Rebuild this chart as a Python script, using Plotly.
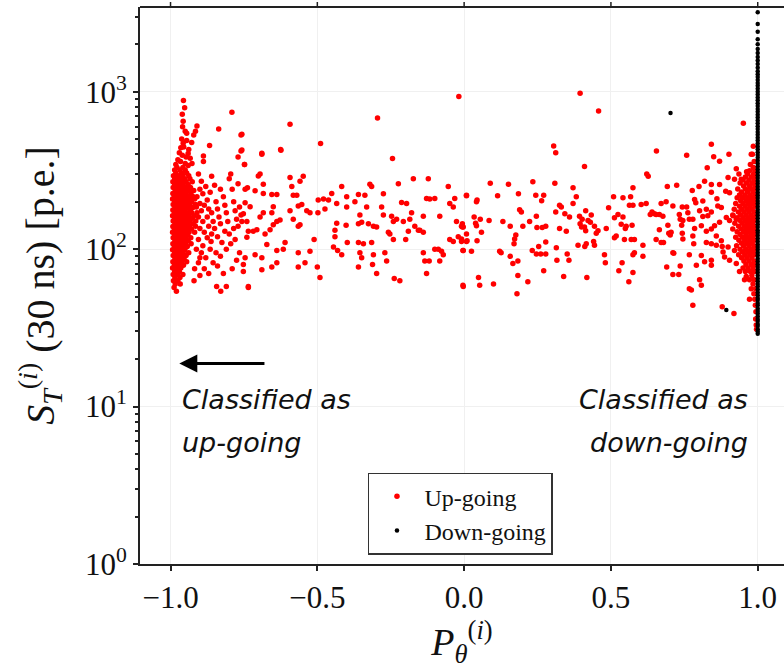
import plotly.graph_objects as go

# ---------------- data ----------------
up_left_tail = [
    (-0.956, 880), (-0.952, 790), (-0.960, 720), (-0.957, 650), (-0.959, 600), (-0.950, 560), (-0.945, 545),
    (-0.910, 605), (-0.915, 560), (-0.921, 530), (-0.962, 500), (-0.945, 490), (-0.928, 475), (-0.965, 440),
    (-0.955, 445), (-0.938, 430), (-0.960, 395), (-0.947, 385), (-0.933, 378), (-0.966, 360), (-0.950, 350),
    (-0.927, 350), (-0.791, 740), (-0.836, 580), (-0.760, 530), (-0.867, 455), (-0.888, 390), (-0.888, 360),
    (-0.760, 420), (-0.770, 385), (-0.748, 345), (-0.689, 400), (-0.624, 425), (-0.975, 370), (-0.970, 410),
    (-0.957, 470), (-0.940, 405), (-0.982, 345), (-0.940, 340),
]
up_left_core = [
    (330, [-0.978, -0.958]),
    (318, [-0.986, -0.968, -0.950]),
    (305, [-0.982, -0.963, -0.945]),
    (292, [-0.990, -0.974, -0.958, -0.938]),
    (280, [-0.986, -0.969, -0.952, -0.934]),
    (268, [-0.992, -0.978, -0.963, -0.947, -0.926]),
    (257, [-0.986, -0.972, -0.957, -0.940]),
    (246, [-0.991, -0.977, -0.962, -0.947, -0.932]),
    (236, [-0.984, -0.969, -0.954, -0.938, -0.921]),
    (226, [-0.992, -0.978, -0.963, -0.948, -0.931]),
    (217, [-0.987, -0.973, -0.958, -0.942, -0.925]),
    (208, [-0.993, -0.980, -0.966, -0.951, -0.936, -0.918]),
    (200, [-0.986, -0.971, -0.957, -0.943, -0.929]),
    (192, [-0.991, -0.978, -0.963, -0.948, -0.934, -0.915]),
    (184, [-0.985, -0.970, -0.955, -0.940, -0.924]),
    (177, [-0.992, -0.979, -0.964, -0.950, -0.932]),
    (170, [-0.987, -0.973, -0.959, -0.944, -0.928, -0.910]),
    (163, [-0.993, -0.980, -0.966, -0.952, -0.937, -0.920]),
    (157, [-0.986, -0.972, -0.958, -0.943, -0.926]),
    (151, [-0.991, -0.977, -0.963, -0.949, -0.934, -0.914]),
    (145, [-0.985, -0.970, -0.955, -0.940, -0.923]),
    (139, [-0.992, -0.978, -0.964, -0.950, -0.935]),
    (134, [-0.987, -0.973, -0.958, -0.944, -0.929]),
    (128, [-0.993, -0.980, -0.966, -0.952, -0.937, -0.918]),
    (123, [-0.986, -0.971, -0.957, -0.942]),
    (118, [-0.991, -0.977, -0.962, -0.948, -0.931]),
    (113, [-0.985, -0.970, -0.955, -0.940]),
    (108, [-0.992, -0.978, -0.964, -0.949, -0.930]),
    (104, [-0.987, -0.973, -0.958, -0.943]),
    (99, [-0.993, -0.980, -0.966, -0.951]),
    (95, [-0.986, -0.971, -0.957, -0.938]),
    (91, [-0.991, -0.977, -0.962, -0.947]),
    (87, [-0.985, -0.969, -0.954]),
    (83, [-0.992, -0.978, -0.963, -0.945]),
    (79, [-0.987, -0.972, -0.956]),
    (76, [-0.993, -0.980, -0.965]),
    (72, [-0.986, -0.970]),
    (69, [-0.991, -0.976, -0.958]),
    (66, [-0.985, -0.968]),
    (63, [-0.990, -0.975]),
    (60, [-0.984, -0.967]),
    (57, [-0.988]),
    (54, [-0.980]),
]
up_left_spread = [
    (-0.905, 300), (-0.895, 270), (-0.900, 240), (-0.910, 215), (-0.890, 225), (-0.880, 250), (-0.875, 205),
    (-0.885, 190), (-0.895, 175), (-0.870, 180), (-0.905, 160), (-0.890, 150), (-0.875, 160), (-0.860, 170),
    (-0.900, 135), (-0.885, 128), (-0.870, 140), (-0.855, 150), (-0.905, 115), (-0.890, 105), (-0.875, 118),
    (-0.860, 125), (-0.895, 95), (-0.880, 88), (-0.865, 100), (-0.905, 82), (-0.885, 75), (-0.870, 70),
    (-0.900, 68), (-0.920, 63), (-0.845, 200), (-0.840, 180), (-0.835, 160), (-0.850, 135), (-0.840, 120),
    (-0.830, 145), (-0.825, 110), (-0.845, 95), (-0.830, 90), (-0.840, 78), (-0.820, 215), (-0.815, 190),
    (-0.810, 170), (-0.805, 150), (-0.815, 130), (-0.800, 125), (-0.810, 100), (-0.795, 108), (-0.820, 70),
    (-0.843, 58), (-0.829, 54), (-0.810, 58), (-0.790, 240), (-0.785, 200), (-0.780, 175), (-0.775, 155),
    (-0.785, 135), (-0.770, 140), (-0.780, 115), (-0.765, 95), (-0.775, 85), (-0.790, 75), (-0.770, 260),
    (-0.765, 185), (-0.760, 165), (-0.735, 57), (-0.860, 290), (-0.865, 230), (-0.850, 255), (-0.830, 240),
    (-0.800, 280), (-0.795, 300), (-0.862, 112), (-0.855, 82), (-0.900, 195), (-0.912, 185), (-0.915, 140),
    (-0.912, 100), (-0.900, 88), (-0.918, 75),
]
up_mid_left = [
    (-0.757, 536), (-0.757, 426), (-0.748, 345), (-0.593, 621), (-0.625, 430), (-0.689, 406), (-0.489, 468),
    (-0.295, 680), (-0.244, 376), (-0.018, 931), (-0.746, 240), (-0.738, 245), (-0.701, 291), (-0.695, 300),
    (-0.684, 258), (-0.712, 235), (-0.746, 197), (-0.729, 186), (-0.752, 168), (-0.757, 150), (-0.740, 150),
    (-0.735, 130), (-0.740, 119), (-0.746, 88), (-0.752, 80), (-0.752, 72), (-0.735, 58), (-0.712, 92),
    (-0.689, 88), (-0.689, 74), (-0.655, 77), (-0.638, 82), (-0.638, 98), (-0.672, 107), (-0.678, 125),
    (-0.661, 133), (-0.650, 143), (-0.638, 150), (-0.627, 153), (-0.655, 170), (-0.650, 186), (-0.655, 222),
    (-0.638, 222), (-0.684, 226), (-0.684, 170), (-0.695, 160), (-0.706, 133), (-0.718, 130), (-0.593, 285),
    (-0.587, 250), (-0.582, 220), (-0.570, 220), (-0.559, 270), (-0.548, 290), (-0.593, 175), (-0.582, 155),
    (-0.565, 140), (-0.559, 143), (-0.565, 188), (-0.553, 192), (-0.536, 175), (-0.525, 170), (-0.610, 110),
    (-0.616, 100), (-0.565, 95), (-0.565, 77), (-0.542, 82), (-0.525, 97), (-0.511, 115), (-0.500, 77),
    (-0.491, 66), (-0.498, 170), (-0.497, 205), (-0.479, 208), (-0.462, 205), (-0.474, 180), (-0.451, 226),
    (-0.434, 195), (-0.417, 250), (-0.400, 215), (-0.400, 185), (-0.434, 146), (-0.440, 132), (-0.440, 120),
    (-0.445, 103), (-0.431, 98), (-0.417, 92), (-0.398, 110), (-0.402, 142), (-0.372, 200), (-0.360, 222),
    (-0.338, 220), (-0.332, 185), (-0.355, 165), (-0.360, 145), (-0.349, 148), (-0.326, 145), (-0.309, 140),
    (-0.298, 138), (-0.321, 258), (-0.315, 250), (-0.275, 225), (-0.281, 185), (-0.275, 165), (-0.247, 162),
    (-0.241, 150), (-0.230, 155), (-0.224, 260), (-0.207, 150), (-0.213, 198), (-0.196, 195), (-0.173, 280),
    (-0.179, 170), (-0.185, 155), (-0.168, 140), (-0.139, 162), (-0.151, 132), (-0.139, 128), (-0.122, 280),
    (-0.128, 210), (-0.117, 208), (-0.100, 210), (-0.083, 162), (-0.054, 250), (-0.049, 195), (-0.037, 185),
    (-0.032, 210), (-0.026, 150), (-0.009, 140), (-0.003, 138), (0.008, 220), (-0.360, 110), (-0.355, 95),
    (-0.349, 88), (-0.343, 108), (-0.315, 110), (-0.309, 92), (-0.312, 80), (-0.360, 77), (-0.298, 70),
    (-0.270, 95), (-0.264, 84), (-0.258, 128), (-0.253, 125), (-0.241, 115), (-0.238, 65), (-0.219, 63),
    (-0.199, 115), (-0.190, 130), (-0.156, 132), (-0.139, 95), (-0.134, 84), (-0.128, 70), (-0.119, 84),
    (-0.100, 100), (-0.088, 100), (-0.077, 97), (-0.071, 92), (-0.083, 84), (-0.037, 112), (-0.020, 120),
    (-0.003, 98), (-0.003, 58), (0.008, 112), (-0.049, 115),
]
up_mid_right = [
    (0.395, 977), (0.458, 754), (0.305, 452), (0.312, 410), (0.410, 335), (0.655, 420), (0.758, 395),
    (0.622, 300), (0.627, 290), (0.089, 262), (0.151, 258), (0.234, 268), (0.309, 262), (0.371, 245),
    (0.008, 218), (0.044, 205), (0.042, 200), (0.114, 218), (0.185, 225), (0.244, 220), (0.271, 220),
    (0.264, 203), (0.382, 215), (0.371, 195), (0.325, 190), (0.331, 185), (0.509, 215), (0.541, 212),
    (0.567, 215), (0.575, 245), (0.563, 190), (0.575, 190), (0.603, 192), (0.620, 195), (0.671, 195),
    (0.688, 200), (0.724, 255), (0.692, 250), (0.711, 188), (0.743, 185), (0.758, 185), (0.492, 183),
    (0.189, 178), (0.195, 172), (0.246, 162), (0.223, 150), (0.200, 140), (0.248, 137), (0.266, 137),
    (0.278, 140), (0.312, 172), (0.343, 168), (0.359, 160), (0.393, 162), (0.402, 155), (0.414, 175),
    (0.422, 152), (0.433, 165), (0.430, 148), (0.444, 140), (0.450, 126), (0.456, 131), (0.410, 138),
    (0.414, 131), (0.395, 145), (0.400, 138), (0.325, 135), (0.348, 130), (0.388, 106), (0.411, 104),
    (0.416, 108), (0.441, 112), (0.444, 106), (0.484, 135), (0.478, 92), (0.481, 82), (0.512, 158),
    (0.524, 166), (0.541, 160), (0.535, 144), (0.552, 140), (0.549, 135), (0.518, 121), (0.512, 118),
    (0.546, 115), (0.569, 115), (0.580, 115), (0.572, 142), (0.609, 106), (0.609, 90), (0.575, 92),
    (0.580, 95), (0.527, 73), (0.538, 82), (0.575, 71), (0.561, 62), (0.634, 166), (0.640, 172),
    (0.648, 168), (0.654, 166), (0.665, 166), (0.677, 162), (0.665, 133), (0.654, 115), (0.671, 110),
    (0.679, 110), (0.694, 142), (0.697, 126), (0.702, 123), (0.705, 128), (0.733, 166), (0.736, 155),
    (0.745, 152), (0.741, 142), (0.743, 126), (0.745, 116), (0.762, 170), (0.767, 155), (0.711, 95),
    (0.714, 94), (0.690, 77), (0.711, 69), (0.731, 69), (0.736, 78), (0.767, 92), (0.767, 56),
    (-0.006, 145), (-0.006, 138), (-0.009, 116), (-0.009, 112), (0.008, 125), (0.010, 113), (0.034, 160),
    (0.039, 146), (0.042, 141), (0.055, 155), (0.059, 128), (0.044, 113), (0.085, 152), (0.132, 150),
    (0.157, 140), (-0.004, 98), (0.025, 97), (0.121, 97), (0.126, 95), (0.176, 123), (0.172, 116),
    (0.170, 108), (0.157, 90), (0.166, 81), (0.183, 84), (0.183, 68), (0.180, 52), (0.217, 62),
    (0.232, 98), (0.254, 104), (0.246, 93), (0.261, 93), (0.278, 93), (0.278, 111), (0.314, 102),
    (0.316, 85), (0.351, 93), (0.357, 85), (0.339, 67), (0.271, 73), (0.418, 66), (0.049, 66),
    (0.053, 59), (0.100, 60), (-0.004, 59),
]
up_right_spread = [
    (0.842, 463), (0.850, 386), (0.870, 362), (0.902, 400), (0.828, 329), (0.927, 324), (0.978, 400),
    (0.951, 630), (0.982, 400), (0.899, 285), (0.921, 278), (0.944, 278), (0.819, 270), (0.842, 257),
    (0.870, 257), (0.777, 236), (0.800, 250), (0.842, 230), (0.891, 233), (0.904, 228), (0.861, 209),
    (0.813, 202), (0.785, 207), (0.789, 197), (0.864, 188), (0.876, 184), (0.825, 179), (0.802, 175),
    (0.842, 172), (0.779, 155), (0.813, 161), (0.830, 163), (0.785, 135), (0.808, 141), (0.825, 130),
    (0.842, 134), (0.853, 141), (0.870, 148), (0.893, 159), (0.904, 152), (0.916, 163), (0.927, 155),
    (0.859, 121), (0.876, 113), (0.825, 110), (0.842, 108), (0.859, 106), (0.879, 104), (0.779, 121),
    (0.782, 108), (0.808, 91), (0.819, 83), (0.842, 85), (0.842, 79), (0.882, 96), (0.887, 89),
    (0.899, 103), (0.921, 98), (0.904, 85), (0.927, 81), (0.938, 72), (0.791, 79), (0.802, 64),
    (0.808, 59), (0.774, 55), (0.779, 44), (0.879, 43), (0.919, 39), (0.972, 48), (0.955, 64),
    (0.961, 67), (0.950, 76), (0.988, 360), (0.975, 345), (0.962, 310), (0.936, 300), (0.985, 450),
]
up_right_core = [
    (330, [0.985]),
    (315, [0.972, 0.990]),
    (300, [0.966, 0.986]),
    (287, [0.958, 0.978, 0.993]),
    (275, [0.950, 0.970, 0.988]),
    (263, [0.940, 0.962, 0.980, 0.994]),
    (252, [0.952, 0.972, 0.990]),
    (241, [0.932, 0.958, 0.976, 0.992]),
    (231, [0.945, 0.965, 0.984]),
    (221, [0.938, 0.956, 0.974, 0.991]),
    (212, [0.930, 0.948, 0.966, 0.983, 0.995]),
    (203, [0.942, 0.960, 0.976, 0.990]),
    (195, [0.925, 0.950, 0.968, 0.985]),
    (187, [0.938, 0.957, 0.974, 0.992]),
    (179, [0.920, 0.946, 0.964, 0.981]),
    (172, [0.934, 0.953, 0.970, 0.988]),
    (165, [0.915, 0.942, 0.960, 0.977, 0.994]),
    (158, [0.930, 0.950, 0.967, 0.984]),
    (152, [0.940, 0.958, 0.975, 0.991]),
    (146, [0.922, 0.947, 0.965, 0.982]),
    (140, [0.935, 0.955, 0.972, 0.989]),
    (134, [0.915, 0.944, 0.962, 0.979, 0.995]),
    (129, [0.930, 0.952, 0.969, 0.986]),
    (124, [0.940, 0.960, 0.977, 0.992]),
    (119, [0.925, 0.948, 0.966, 0.983]),
    (114, [0.936, 0.956, 0.973, 0.990]),
    (109, [0.945, 0.963, 0.980]),
    (105, [0.928, 0.952, 0.970, 0.987]),
    (100, [0.940, 0.959, 0.976, 0.993]),
    (96, [0.948, 0.966, 0.983]),
    (92, [0.935, 0.956, 0.973, 0.990]),
    (88, [0.945, 0.963, 0.980]),
    (84, [0.953, 0.970, 0.987]),
    (80, [0.960, 0.978, 0.993]),
    (76, [0.967, 0.984]),
    (72, [0.958, 0.975, 0.990]),
    (68, [0.980]),
    (64, [0.972, 0.988]),
    (60, [0.984]),
    (56, [0.978, 0.993]),
    (52, [0.987]),
    (48, [0.990]),
    (44, [0.992]),
    (40, [0.994]),
    (36, [0.993]),
    (33, [0.995]),
    (31, [0.996]),
]

down_line_y = [
    29, 30, 31, 32.5, 33.5, 35, 36, 37.5, 39, 40.5, 42, 44, 45.5, 47.5, 49, 51, 53, 55.5, 58, 60,
    62.5, 65, 68, 71, 74, 77, 80, 83.5, 87, 91, 95, 99, 103, 107, 112, 117, 122, 127, 132, 138,
    144, 150, 157, 164, 171, 178, 186, 194, 202, 211, 220, 229, 239, 249, 260, 271, 283, 295, 308, 321,
    335, 349, 364, 380, 396, 413, 431, 449, 469, 489, 510, 532, 555, 579, 604, 630, 657, 685, 715, 745,
    777, 811, 846, 882, 920, 960, 1000, 1045, 1090, 1135, 1185, 1240, 1290, 1350, 1420, 1500, 1580, 1660,
    1760, 1870, 2000, 2150, 2400, 2690, 3200,
]
down_line_x = [1.0] * len(down_line_y)
down_extra = [(0.703, 733), (0.893, 41)]

x_tick_vals = [-1.0, -0.5, 0.0, 0.5, 1.0]
x_tick_text = ["\u22121.0", "\u22120.5", "0.0", "0.5", "1.0"]
y_tick_vals = [1, 10, 100, 1000]
y_tick_text = ["10<sup>0</sup>", "10<sup>1</sup>", "10<sup>2</sup>", "10<sup>3</sup>"]
y_minor_vals = [m * 10 ** e for e in range(0, 4) for m in range(2, 10) if m * 10 ** e < 3500]

# ---------------- assemble ----------------
up_x, up_y = [], []
for pts in (up_left_tail, up_left_spread, up_mid_left, up_mid_right, up_right_spread):
    for px_, py_ in pts:
        up_x.append(px_)
        up_y.append(py_)
for rows in (up_left_core, up_right_core):
    for yv, xs in rows:
        for xv in xs:
            up_x.append(xv)
            up_y.append(yv)

down_x = down_line_x + [p[0] for p in down_extra]
down_y = down_line_y + [p[1] for p in down_extra]

SERIF = "Liberation Serif"
SANS_IT = "DejaVu Sans"
AXIS_COL = "#222"

fig = go.Figure()
fig.add_trace(go.Scatter(
    x=up_x, y=up_y, mode="markers", name="Up-going", legendgroup="up",
    marker=dict(color="#ff0000", size=5.5, line=dict(width=0)),
))
fig.add_trace(go.Scatter(
    x=down_x, y=down_y, mode="markers", name="Down-going", legendgroup="down",
    marker=dict(color="#000000", size=4.5, line=dict(width=0)),
))

ann_font = dict(family=SANS_IT, size=27, color="#111")
fig.add_annotation(x=-0.967, y=1.045, xref="x", yref="y", text="<i>Classified as</i>", showarrow=False,
                   xanchor="left", yanchor="middle", font=ann_font)
fig.add_annotation(x=-0.967, y=0.773, xref="x", yref="y", text="<i>up-going</i>", showarrow=False,
                   xanchor="left", yanchor="middle", font=ann_font)
fig.add_annotation(x=0.975, y=1.045, xref="x", yref="y", text="<i>Classified as</i>", showarrow=False,
                   xanchor="right", yanchor="middle", font=ann_font)
fig.add_annotation(x=0.975, y=0.773, xref="x", yref="y", text="<i>down-going</i>", showarrow=False,
                   xanchor="right", yanchor="middle", font=ann_font)
fig.add_annotation(x=-0.97, y=1.273, ax=-0.675, ay=1.273, xref="x", yref="y", axref="x", ayref="y",
                   text="", showarrow=True, arrowhead=2, arrowsize=1.2, arrowwidth=3, arrowcolor="#000")

# top spine with outward ticks (the right spine lies outside the picture)
fig.add_shape(type="line", xref="paper", yref="paper", x0=0, x1=1, y0=1, y1=1,
              line=dict(color=AXIS_COL, width=2), layer="above")
for tv in x_tick_vals:
    fig.add_shape(type="line", xref="x", yref="paper", x0=tv, x1=tv, y0=1, y1=1.009,
                  line=dict(color=AXIS_COL, width=1.5), layer="above")

fig.update_layout(
    width=784, height=671,
    margin=dict(l=140, r=0, t=7, b=107),
    paper_bgcolor="white", plot_bgcolor="white",
    showlegend=True,
    legend=dict(x=0.354, y=0.164, xanchor="left", yanchor="top",
                bgcolor="white", bordercolor="#333", borderwidth=1.5,
                font=dict(family=SERIF, size=24, color="#111"),
                itemwidth=45, tracegroupgap=0),
    font=dict(family=SERIF, color="#111"),
)
fig.update_xaxes(
    range=[-1.104, 1.0895], tickmode="array", tickvals=x_tick_vals, ticktext=x_tick_text,
    ticks="outside", ticklen=5, tickwidth=1.5, tickcolor=AXIS_COL,
    showline=True, linecolor=AXIS_COL, linewidth=2, mirror=False,
    showgrid=True, gridcolor="#f0f0f0", gridwidth=1, zeroline=False,
    tickfont=dict(family=SERIF, size=31, color="#111"),
    title=dict(text="<i>P</i><sub><i>\u03b8</i></sub><sup>(<i>i</i>)</sup>",
               font=dict(family=SERIF, size=38, color="#111"), standoff=10),
)
fig.update_yaxes(
    type="log", range=[0, 3.538], tickmode="array", tickvals=y_tick_vals, ticktext=y_tick_text,
    ticks="outside", ticklen=5, tickwidth=1.5, tickcolor=AXIS_COL,
    minor=dict(tickmode="array", tickvals=y_minor_vals, ticks="outside", ticklen=3, tickcolor=AXIS_COL, showgrid=False),
    showline=True, linecolor=AXIS_COL, linewidth=2, mirror=False,
    showgrid=True, gridcolor="#f0f0f0", gridwidth=1, zeroline=False,
    tickfont=dict(family=SERIF, size=31, color="#111"),
    title=dict(text="<i>S</i><sub><i>T</i></sub><sup>(<i>i</i>)</sup> (30 ns) [p.e.]",
               font=dict(family=SERIF, size=40, color="#111"), standoff=18),
)

fig.write_html("out.html", config={"displayModeBar": False})
